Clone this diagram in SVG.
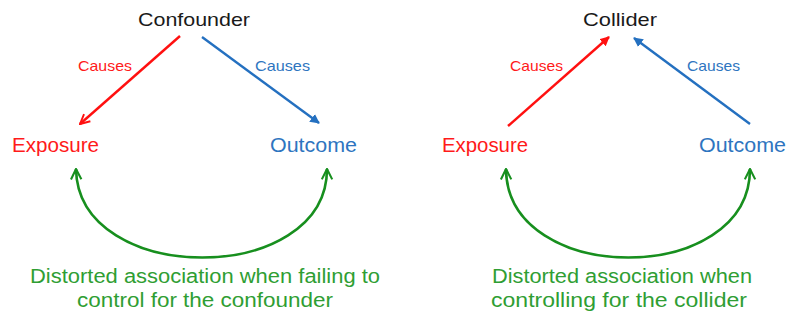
<svg xmlns="http://www.w3.org/2000/svg" width="787" height="320" viewBox="0 0 787 320">
  <style>
    text { font-family: "Liberation Sans", Arial, sans-serif; }
    .title { font-size: 18.5px; fill: #1a1a1a; }
    .node { font-size: 19.5px; }
    .lbl { font-size: 15px; }
    .red { fill: #ff1a1a; }
    .blue { fill: #2e75c0; }
    .note { font-size: 20px; fill: #2f9e33; }
    .edge-red { stroke: #ff1010; stroke-width: 2.4; fill: none; }
    .edge-blue { stroke: #2470c0; stroke-width: 2.4; fill: none; }
    .assoc { stroke: #178f1e; stroke-width: 2.6; fill: none; }
  </style>
  <defs>
    <marker id="ahRed" viewBox="0 0 10 10" refX="9" refY="5" markerWidth="5" markerHeight="5" orient="auto" markerUnits="strokeWidth">
      <path d="M1,1 L9,5 L1,9" fill="none" stroke="#ff1010" stroke-width="1.6"/>
    </marker>
    <marker id="ahBlue" viewBox="0 0 10 10" refX="9" refY="5" markerWidth="4" markerHeight="4" orient="auto" markerUnits="strokeWidth">
      <path d="M0,0 L10,5 L0,10 z" fill="#2470c0"/>
    </marker>
    <marker id="ahRedFill" viewBox="0 0 10 10" refX="9" refY="5" markerWidth="4" markerHeight="4" orient="auto" markerUnits="strokeWidth">
      <path d="M0,0 L10,5 L0,10 z" fill="#ff1010"/>
    </marker>
    <marker id="ahGreen" viewBox="0 0 10 10" refX="9" refY="5" markerWidth="5" markerHeight="5" orient="auto-start-reverse" markerUnits="strokeWidth">
      <path d="M1,1 L9,5 L1,9" fill="none" stroke="#178f1e" stroke-width="1.6"/>
    </marker>
  </defs>

  <!-- connectors -->
  <g id="connectors">
    <!-- confounder panel -->
    <line class="edge-red" x1="180" y1="36" x2="80" y2="124" marker-end="url(#ahRed)"/>
    <line class="edge-blue" x1="202" y1="37" x2="319" y2="123" marker-end="url(#ahBlue)"/>
    <path class="assoc" d="M76,169 C78,287 327,287 327,169" marker-start="url(#ahGreen)" marker-end="url(#ahGreen)"/>
    <!-- collider panel -->
    <line class="edge-red" x1="508" y1="126" x2="609" y2="37" marker-end="url(#ahRedFill)"/>
    <line class="edge-blue" x1="750" y1="124" x2="634" y2="38" marker-end="url(#ahBlue)"/>
    <path class="assoc" d="M506,169 C507,287 750,287 750,169" marker-start="url(#ahGreen)" marker-end="url(#ahGreen)"/>
  </g>

  <!-- edge labels -->
  <g id="edge-labels">
    <text class="lbl red" x="78" y="71" textLength="54" lengthAdjust="spacingAndGlyphs">Causes</text>
    <text class="lbl blue" x="255" y="71" textLength="55" lengthAdjust="spacingAndGlyphs">Causes</text>
    <text class="lbl red" x="510" y="71" textLength="53" lengthAdjust="spacingAndGlyphs">Causes</text>
    <text class="lbl blue" x="687" y="71" textLength="53" lengthAdjust="spacingAndGlyphs">Causes</text>
  </g>

  <!-- confounder panel nodes -->
  <g id="confounder">
    <text class="title" x="138" y="26" textLength="112" lengthAdjust="spacingAndGlyphs">Confounder</text>
  </g>
  <g id="exposure-left">
    <text class="node red" x="12" y="152" textLength="87" lengthAdjust="spacingAndGlyphs">Exposure</text>
  </g>
  <g id="outcome-left">
    <text class="node blue" x="270" y="152" textLength="87" lengthAdjust="spacingAndGlyphs">Outcome</text>
  </g>
  <g id="note-left">
    <text class="note" x="30" y="283" textLength="350" lengthAdjust="spacingAndGlyphs">Distorted association when failing to</text>
    <text class="note" x="77" y="307" textLength="256" lengthAdjust="spacingAndGlyphs">control for the confounder</text>
  </g>

  <!-- collider panel nodes -->
  <g id="collider">
    <text class="title" x="583" y="26" textLength="74" lengthAdjust="spacingAndGlyphs">Collider</text>
  </g>
  <g id="exposure-right">
    <text class="node red" x="442" y="152" textLength="86" lengthAdjust="spacingAndGlyphs">Exposure</text>
  </g>
  <g id="outcome-right">
    <text class="node blue" x="699" y="152" textLength="87" lengthAdjust="spacingAndGlyphs">Outcome</text>
  </g>
  <g id="note-right">
    <text class="note" x="492" y="283" textLength="260" lengthAdjust="spacingAndGlyphs">Distorted association when</text>
    <text class="note" x="491" y="307" textLength="256" lengthAdjust="spacingAndGlyphs">controlling for the collider</text>
  </g>
</svg>
